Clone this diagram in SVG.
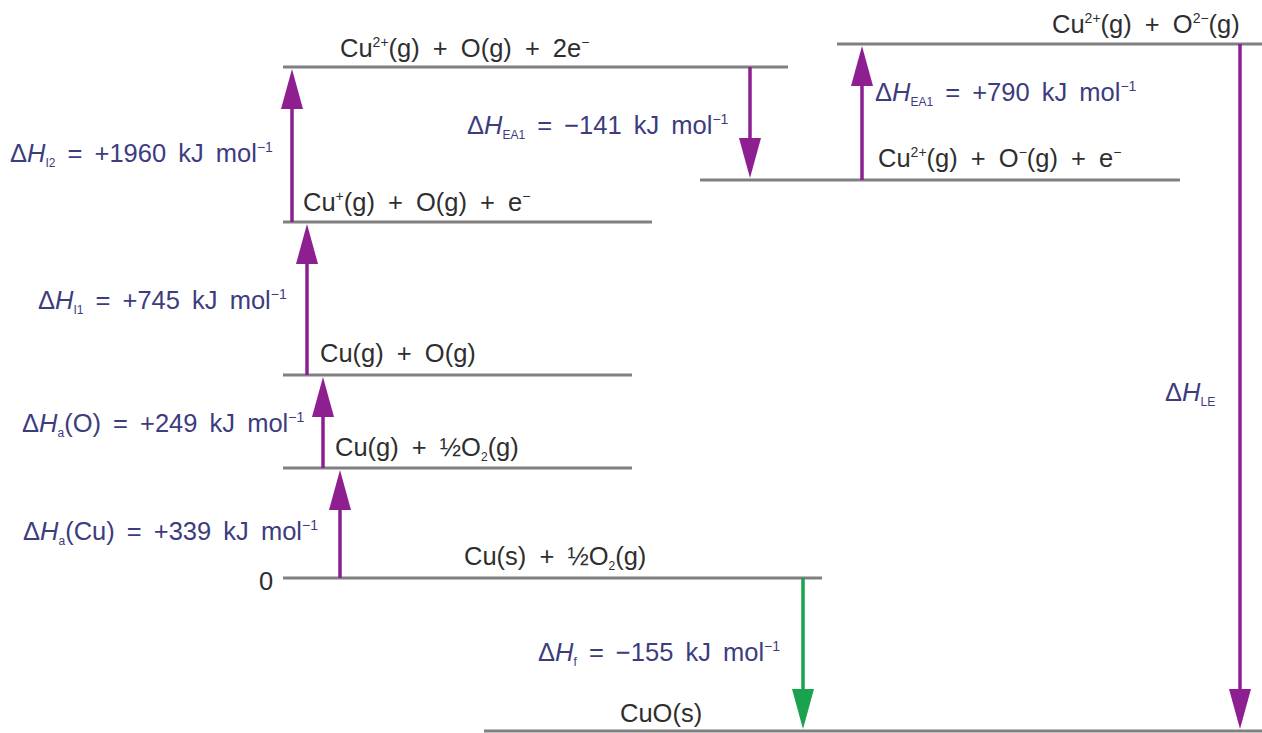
<svg xmlns="http://www.w3.org/2000/svg" width="1262" height="733" viewBox="0 0 1262 733">
<defs>
<marker id="hp" viewBox="0 0 40 22" markerUnits="userSpaceOnUse" markerWidth="40" markerHeight="22" refX="30" refY="11" orient="auto"><path d="M0,0 L40,11 L0,22 z" fill="#8e1f90"/></marker>
<marker id="hg" viewBox="0 0 40 22" markerUnits="userSpaceOnUse" markerWidth="40" markerHeight="22" refX="30" refY="11" orient="auto"><path d="M0,0 L40,11 L0,22 z" fill="#1ba24c"/></marker>
</defs>
<style>
.lvl{stroke:#808080;stroke-width:3;fill:none}
.arr{stroke:#8e1f90;stroke-width:3.5;fill:none;marker-end:url(#hp)}
.arrg{stroke:#1ba24c;stroke-width:3.5;fill:none;marker-end:url(#hg)}
.sp{font-family:"Liberation Sans",Arial,sans-serif;font-size:25.5px;fill:#2e2e2e;word-spacing:6px}
.lb{font-family:"Liberation Sans",Arial,sans-serif;font-size:25.5px;fill:#3c3c7e;word-spacing:5px}
.sup{font-size:14px}
.sub{font-size:12px}
.it{font-style:italic}
</style>
<rect width="1262" height="733" fill="#ffffff"/>

<g id="level-cu2-o-2e">
<line class="lvl" x1="283" y1="67" x2="788" y2="67"/>
<text class="sp" x="340" y="57">Cu<tspan class="sup" dy="-10">2+</tspan><tspan dy="10">(g) + O(g) + 2e</tspan><tspan class="sup" dy="-10">−</tspan></text>
</g>
<g id="level-cu1-o-e">
<line class="lvl" x1="283" y1="222" x2="652" y2="222"/>
<text class="sp" x="303" y="211">Cu<tspan class="sup" dy="-10">+</tspan><tspan dy="10">(g) + O(g) + e</tspan><tspan class="sup" dy="-10">−</tspan></text>
</g>
<g id="level-cug-og">
<line class="lvl" x1="283" y1="375" x2="632" y2="375"/>
<text class="sp" x="320" y="362">Cu(g) + O(g)</text>
</g>
<g id="level-cug-halfo2">
<line class="lvl" x1="283" y1="468" x2="632" y2="468"/>
<text class="sp" x="335" y="456">Cu(g) + ½O<tspan class="sub" dy="5">2</tspan><tspan dy="-5">(g)</tspan></text>
</g>
<g id="level-zero">
<line class="lvl" x1="283" y1="578" x2="822" y2="578"/>
<text class="sp" x="259" y="590">0</text>
<text class="sp" x="464" y="565">Cu(s) + ½O<tspan class="sub" dy="5">2</tspan><tspan dy="-5">(g)</tspan></text>
</g>
<g id="level-cuo">
<line class="lvl" x1="484" y1="731" x2="1262" y2="731"/>
<text class="sp" x="620" y="722">CuO(s)</text>
</g>
<g id="level-cu2-o1-e">
<line class="lvl" x1="700" y1="180" x2="1180" y2="180"/>
<text class="sp" x="878" y="167">Cu<tspan class="sup" dy="-10">2+</tspan><tspan dy="10">(g) + O</tspan><tspan class="sup" dy="-10">−</tspan><tspan dy="10">(g) + e</tspan><tspan class="sup" dy="-10">−</tspan></text>
</g>
<g id="level-cu2-o2">
<line class="lvl" x1="837" y1="44" x2="1262" y2="44"/>
<text class="sp" x="1052" y="33">Cu<tspan class="sup" dy="-10">2+</tspan><tspan dy="10">(g) + O</tspan><tspan class="sup" dy="-10">2−</tspan><tspan dy="10">(g)</tspan></text>
</g>

<g id="connectors">
<line class="arr" x1="292" y1="222" x2="292" y2="79"/>
<line class="arr" x1="307" y1="375" x2="307" y2="234"/>
<line class="arr" x1="323" y1="468" x2="323" y2="387"/>
<line class="arr" x1="340" y1="578" x2="340" y2="480"/>
<line class="arr" x1="750" y1="67" x2="750" y2="168"/>
<line class="arr" x1="862" y1="180" x2="862" y2="56"/>
<line class="arr" x1="1240" y1="44" x2="1240" y2="719"/>
<line class="arrg" x1="803" y1="578" x2="803" y2="719"/>
</g>

<g id="connector-labels">
<text class="lb" x="10" y="162">Δ<tspan class="it">H</tspan><tspan class="sub" dy="5">I2</tspan><tspan dy="-5"> = +1960 kJ mol</tspan><tspan class="sup" dy="-10">−1</tspan></text>
<text class="lb" x="38" y="309">Δ<tspan class="it">H</tspan><tspan class="sub" dy="5">I1</tspan><tspan dy="-5"> = +745 kJ mol</tspan><tspan class="sup" dy="-10">−1</tspan></text>
<text class="lb" x="22" y="432">Δ<tspan class="it">H</tspan><tspan class="sub" dy="5">a</tspan><tspan dy="-5">(O) = +249 kJ mol</tspan><tspan class="sup" dy="-10">−1</tspan></text>
<text class="lb" x="23" y="540">Δ<tspan class="it">H</tspan><tspan class="sub" dy="5">a</tspan><tspan dy="-5">(Cu) = +339 kJ mol</tspan><tspan class="sup" dy="-10">−1</tspan></text>
<text class="lb" x="467" y="134">Δ<tspan class="it">H</tspan><tspan class="sub" dy="5">EA1</tspan><tspan dy="-5"> = −141 kJ mol</tspan><tspan class="sup" dy="-10">−1</tspan></text>
<text class="lb" x="875" y="101">Δ<tspan class="it">H</tspan><tspan class="sub" dy="5">EA1</tspan><tspan dy="-5"> = +790 kJ mol</tspan><tspan class="sup" dy="-10">−1</tspan></text>
<text class="lb" x="538" y="661">Δ<tspan class="it">H</tspan><tspan class="sub" dy="5">f</tspan><tspan dy="-5"> = −155 kJ mol</tspan><tspan class="sup" dy="-10">−1</tspan></text>
<text class="lb" x="1165" y="401">Δ<tspan class="it">H</tspan><tspan class="sub" dy="5">LE</tspan></text>
</g>
</svg>
